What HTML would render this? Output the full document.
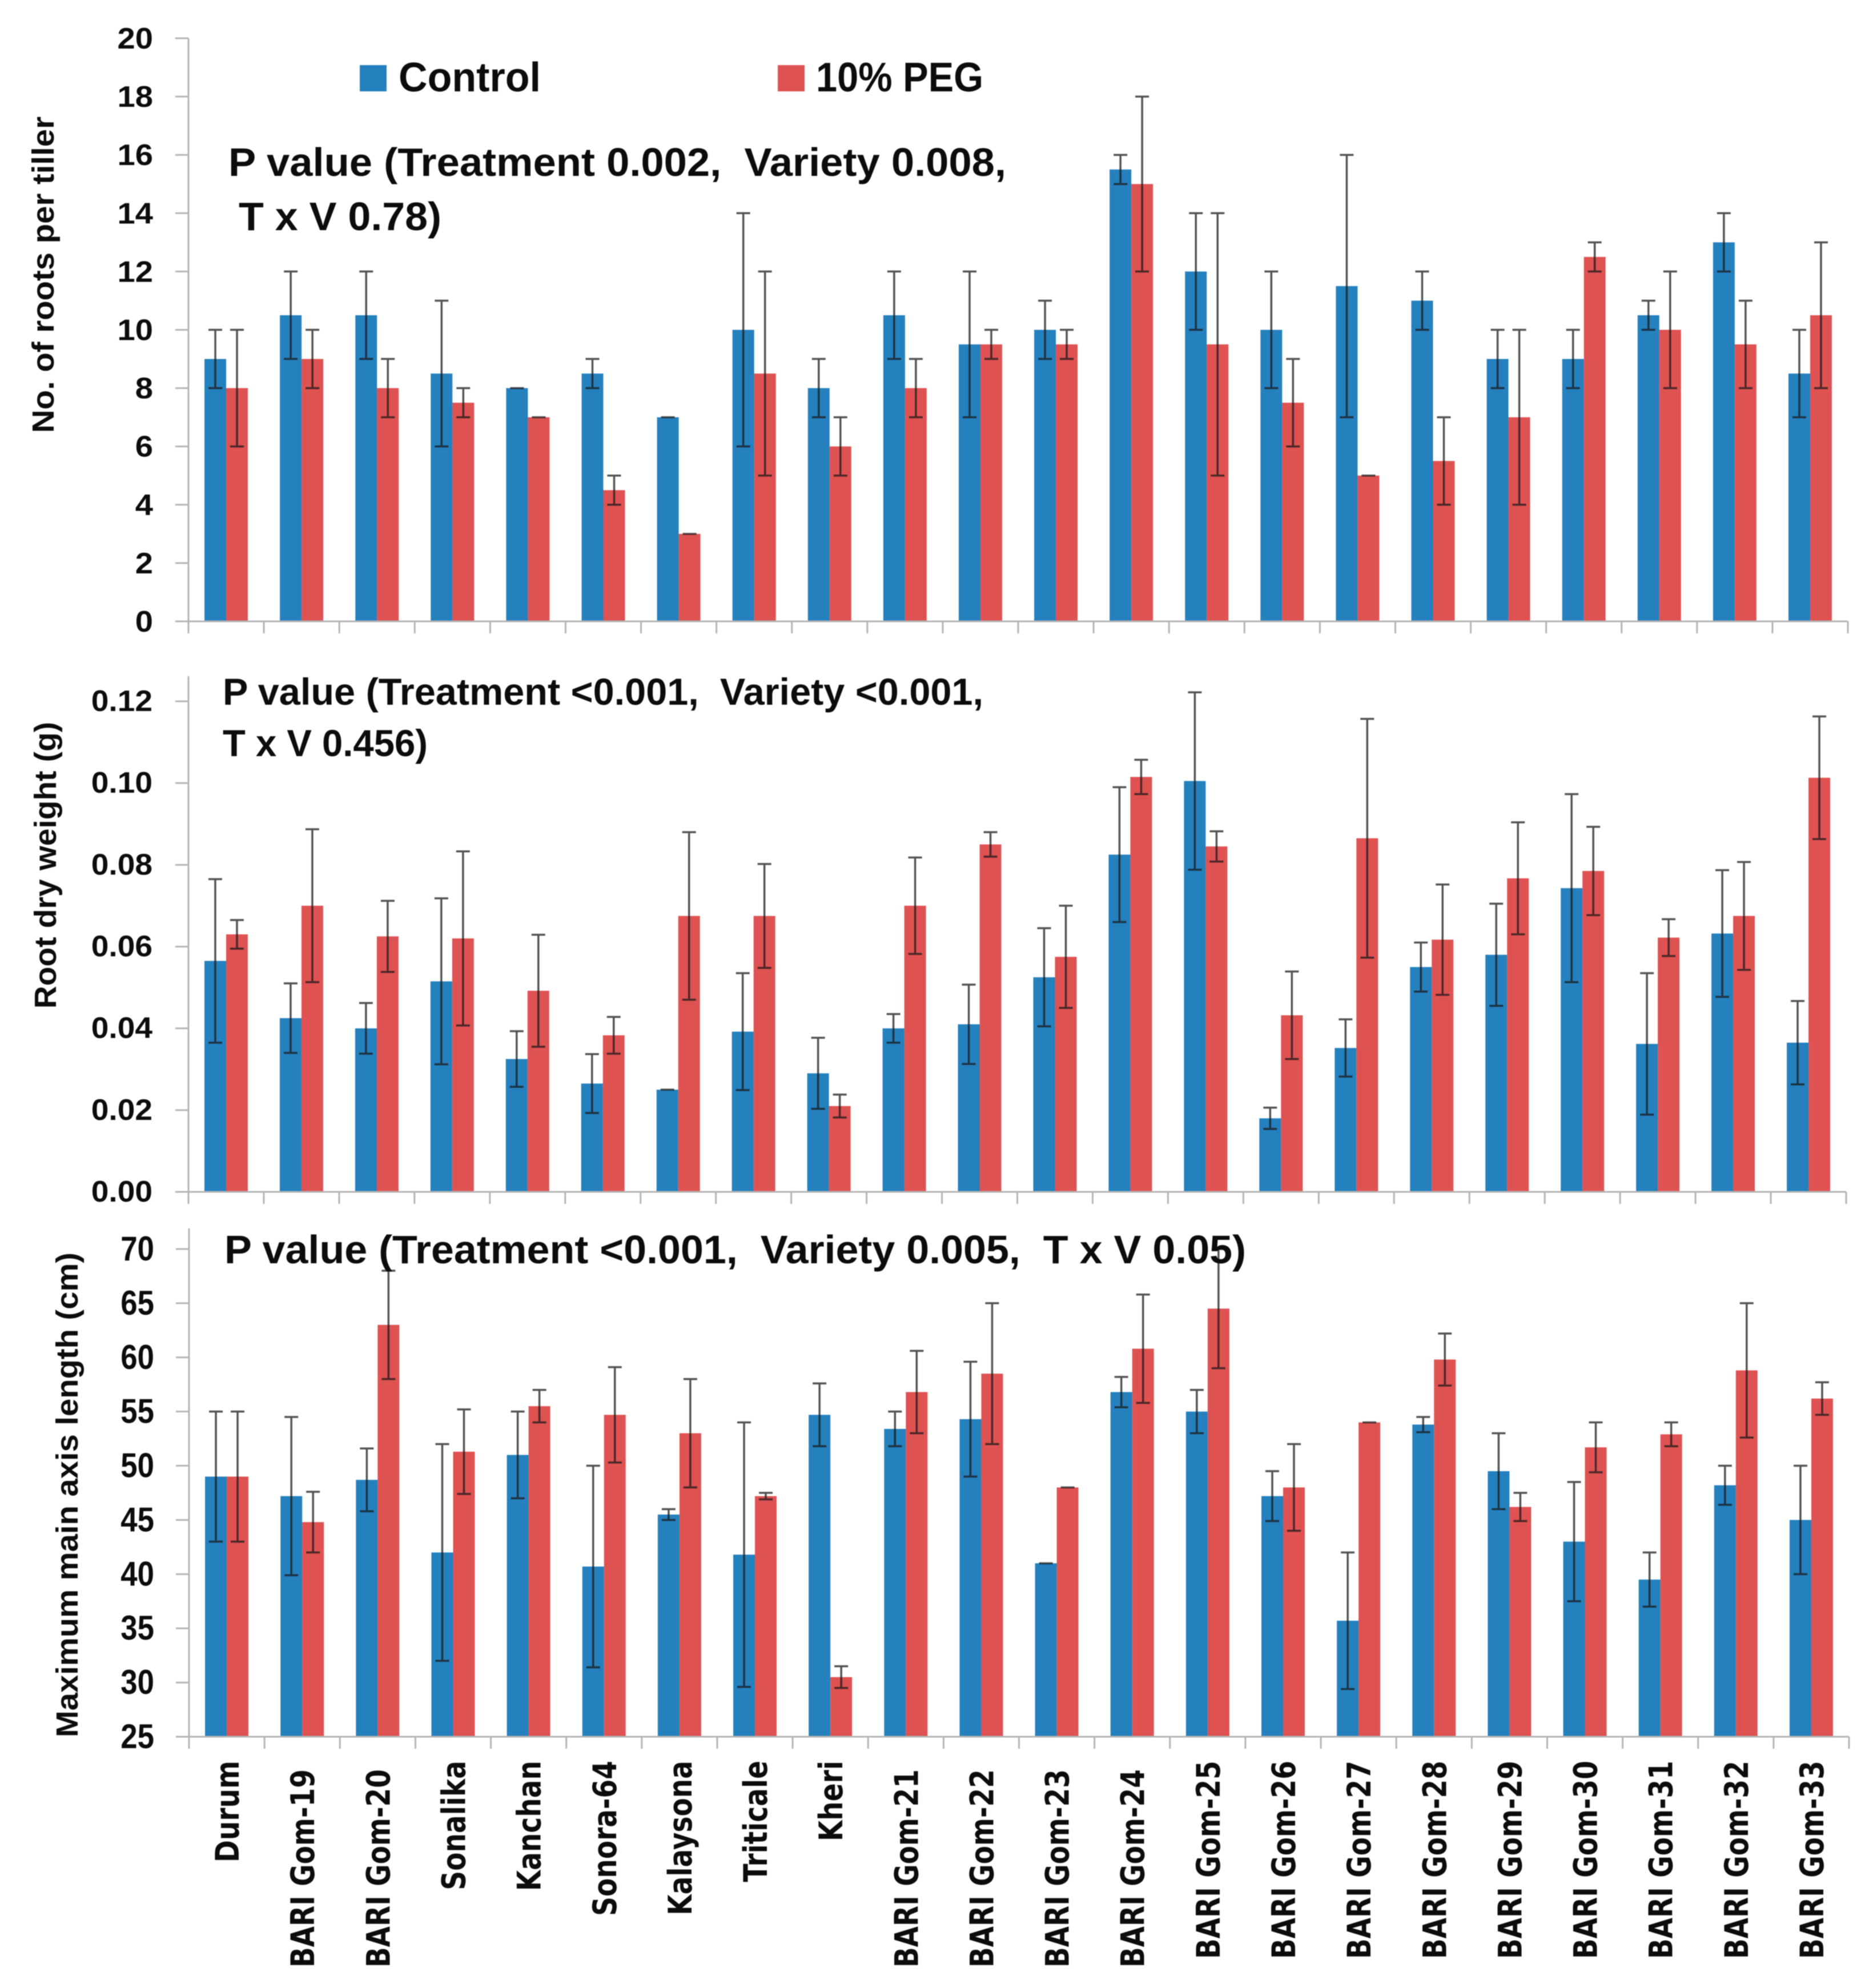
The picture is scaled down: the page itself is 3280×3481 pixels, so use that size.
<!DOCTYPE html>
<html>
<head>
<meta charset="utf-8">
<title>Root traits of wheat varieties under control and 10% PEG</title>
<style>
html,body{margin:0;padding:0;background:#fff;}
svg{display:block;filter:blur(0.9px);}
text{font-family:"Liberation Sans",sans-serif;font-weight:bold;fill:#0c0c0c;white-space:pre;}
.xl{font-family:"DejaVu Sans",sans-serif;}
</style>
</head>
<body>
<svg id="chart" xmlns="http://www.w3.org/2000/svg" width="3280" height="3481" viewBox="0 0 3280 3481">
  <rect x="0" y="0" width="3280" height="3481" fill="#fff"/>
  <g id="plots"></g>
  <g>
    <rect x="630" y="114" width="47" height="46" fill="#2580BE"/>
    <text x="698" y="160" font-size="72" textLength="249" lengthAdjust="spacingAndGlyphs">Control</text>
    <rect x="1362" y="114" width="47" height="46" fill="#DF5252"/>
    <text x="1429" y="160" font-size="72" textLength="293" lengthAdjust="spacingAndGlyphs">10% PEG</text>
  </g>
  <text x="400" y="308" font-size="70" textLength="1362" lengthAdjust="spacingAndGlyphs">P value (Treatment 0.002,  Variety 0.008,</text>
  <text x="418" y="403" font-size="70" textLength="355" lengthAdjust="spacingAndGlyphs">T x V 0.78)</text>
  <text x="390" y="1234" font-size="66" textLength="1332" lengthAdjust="spacingAndGlyphs">P value (Treatment &lt;0.001,  Variety &lt;0.001,</text>
  <text x="390" y="1324" font-size="66" textLength="359" lengthAdjust="spacingAndGlyphs">T x V 0.456)</text>
  <text x="393" y="2212" font-size="70" textLength="1789" lengthAdjust="spacingAndGlyphs">P value (Treatment &lt;0.001,  Variety 0.005,  T x V 0.05)</text>
  <text transform="translate(94,758) rotate(-90)" font-size="54" textLength="554" lengthAdjust="spacingAndGlyphs">No. of roots per tiller</text>
  <text transform="translate(98,1766) rotate(-90)" font-size="54" textLength="502" lengthAdjust="spacingAndGlyphs">Root dry weight (g)</text>
  <text transform="translate(136,3042) rotate(-90)" font-size="54" textLength="849" lengthAdjust="spacingAndGlyphs">Maximum main axis length (cm)</text>
</svg>
<script>
const categories = ['Durum','BARI Gom-19','BARI Gom-20','Sonalika','Kanchan','Sonora-64','Kalaysona','Triticale','Kheri','BARI Gom-21','BARI Gom-22','BARI Gom-23','BARI Gom-24','BARI Gom-25','BARI Gom-26','BARI Gom-27','BARI Gom-28','BARI Gom-29','BARI Gom-30','BARI Gom-31','BARI Gom-32','BARI Gom-33'];

const rootsControl = [9,10.5,10.5,8.5,8,8.5,7,10,8,10.5,9.5,10,15.5,12,10,11.5,11,9,9,10.5,13,8.5];
const rootsControlErr = [1,1.5,1.5,2.5,0,0.5,0,4,1,1.5,2.5,1,0.5,2,2,4.5,1,1,1,0.5,1,1.5];
const rootsPeg = [8,9,8,7.5,7,4.5,3,8.5,6,8,9.5,9.5,15,9.5,7.5,5,5.5,7,12.5,10,9.5,10.5];
const rootsPegErr = [2,1,1,0.5,0,0.5,0,3.5,1,1,0.5,0.5,3,4.5,1.5,0,1.5,3,0.5,2,1.5,2.5];
const rootsTicks = ['0','2','4','6','8','10','12','14','16','18','20'];

const weightControl = [0.0565,0.0425,0.040,0.0515,0.0325,0.0265,0.025,0.0392,0.029,0.040,0.041,0.0525,0.0825,0.1005,0.018,0.0352,0.055,0.058,0.0743,0.0362,0.0632,0.0365];
const weightControlErr = [0.020,0.0085,0.0062,0.0203,0.0068,0.0072,0,0.0143,0.0087,0.0035,0.0097,0.012,0.0165,0.0217,0.0026,0.007,0.006,0.0125,0.023,0.0173,0.0155,0.0102];
const weightPeg = [0.063,0.070,0.0625,0.062,0.0492,0.0383,0.0675,0.0675,0.021,0.070,0.085,0.0575,0.1015,0.0845,0.0432,0.0865,0.0617,0.0767,0.0785,0.0622,0.0675,0.1013];
const weightPegErr = [0.0035,0.0187,0.0087,0.0213,0.0137,0.0045,0.0205,0.0127,0.0028,0.0118,0.003,0.0125,0.0042,0.0037,0.0107,0.0292,0.0135,0.0137,0.0108,0.0045,0.0132,0.015];
const weightTicks = ['0.00','0.02','0.04','0.06','0.08','0.10','0.12'];

const lengthControl = [49,47.2,48.7,42,51,40.7,45.5,41.8,54.7,53.4,54.3,41,56.8,55,47.2,35.7,53.8,49.5,43,39.5,48.2,45];
const lengthControlErr = [6,7.3,2.9,10,4,9.3,0.5,12.2,2.9,1.6,5.3,0,1.4,2,2.3,6.3,0.7,3.5,5.5,2.5,1.8,5];
const lengthPeg = [49,44.8,63,51.3,55.5,54.7,53,47.2,30.5,56.8,58.5,48,60.8,64.5,48,54,59.8,46.2,51.7,52.9,58.8,56.2];
const lengthPegErr = [6,2.8,5,3.9,1.5,4.4,5,0.3,1,3.8,6.5,0,5,5.5,4,0,2.4,1.3,2.3,1.1,6.2,1.5];
const lengthTicks = ['25','30','35','40','45','50','55','60','65','70'];

const NS = 'http://www.w3.org/2000/svg';
const plots = document.getElementById('plots');
const BLUE = '#2580BE', RED = '#DF5252', AXIS = '#b4b4b4';

function make(tag, attrs, parent) {
  const el = document.createElementNS(NS, tag);
  for (const k in attrs) el.setAttribute(k, attrs[k]);
  parent.appendChild(el);
  return el;
}

function drawPanel(p) {
  const g = make('g', {}, plots);
  
  
  const n = categories.length;
  const step = (p.x1 - p.x0) / n;
  const lo = parseFloat(p.ticks[0]);
  const hi = parseFloat(p.ticks[p.ticks.length - 1]);
  const y = v => p.yLo + (v - lo) * (p.yHi - p.yLo) / (hi - lo);
  const cx = i => p.x0 + step * (i + 0.5);

  function bar(i, vals, side, color, seriesName) {
    const yTop = y(vals[i]);
    const x = side < 0 ? cx(i) - 38 : cx(i);
    const r = make('rect', {x: x, y: yTop, width: 38, height: p.yLo - yTop, fill: color}, g);
    
    
  }
  function err(i, vals, errs, side, seriesName) {
    const xc = cx(i) + side * 19;
    const t = y(vals[i] + errs[i]);
    const b = y(vals[i] - errs[i]);
    const d = 'M' + xc + ' ' + t + 'V' + b + 'M' + (xc - 12) + ' ' + t + 'H' + (xc + 12) + 'M' + (xc - 12) + ' ' + b + 'H' + (xc + 12);
    const e = make('path', {d: d, fill: 'none', stroke: '#1a1a1a', 'stroke-width': 3.5, 'stroke-opacity': 0.75}, g);
    
    
  }

  for (let i = 0; i < n; i++) {
    bar(i, p.control, -1, BLUE, 'control');
    bar(i, p.peg, 1, RED, 'peg');
  }
  for (let i = 0; i < n; i++) {
    err(i, p.control, p.controlErr, -1, 'control');
    err(i, p.peg, p.pegErr, 1, 'peg');
  }

  const yAxis = make('line', {x1: p.x0, x2: p.x0, y1: p.yTop, y2: p.yLo, stroke: AXIS, 'stroke-width': 3}, g);
  
  
  const xAxis = make('line', {x1: p.x0 - 23, x2: p.x1, y1: p.yLo, y2: p.yLo, stroke: AXIS, 'stroke-width': 3}, g);
  
  

  for (let i = 0; i <= n; i++) {
    const tx = p.x0 + step * i;
    const t = make('line', {x1: tx, x2: tx, y1: p.yLo, y2: p.yLo + 21, stroke: AXIS, 'stroke-width': 3}, g);
    
    
  }
  p.ticks.forEach(function (label) {
    const ty = y(parseFloat(label));
    const t = make('line', {x1: p.x0 - 23, x2: p.x0, y1: ty, y2: ty, stroke: AXIS, 'stroke-width': 3}, g);
    
    
    const txt = make('text', {
      transform: 'translate(' + p.labelX + ',' + (ty + p.labelDy) + ') scale(' + p.labelSx + ',1)',
      'text-anchor': 'end',
      'font-size': p.labelSize
    }, g);
    
    
    txt.textContent = label;
  });
}

drawPanel({name: 'roots', x0: 330, x1: 3236, yLo: 1088, yHi: 67, yTop: 67,
  ticks: rootsTicks, control: rootsControl, controlErr: rootsControlErr, peg: rootsPeg, pegErr: rootsPegErr,
  labelX: 268, labelDy: 18, labelSx: 1.08, labelSize: 52});
drawPanel({name: 'dry-weight', x0: 330, x1: 3233, yLo: 2087, yHi: 1228, yTop: 1184,
  ticks: weightTicks, control: weightControl, controlErr: weightControlErr, peg: weightPeg, pegErr: weightPegErr,
  labelX: 267, labelDy: 17, labelSx: 1.06, labelSize: 52});
drawPanel({name: 'axis-length', x0: 331, x1: 3238, yLo: 3041, yHi: 2187, yTop: 2151,
  ticks: lengthTicks, control: lengthControl, controlErr: lengthControlErr, peg: lengthPeg, pegErr: lengthPegErr,
  labelX: 270, labelDy: 20, labelSx: 0.88, labelSize: 60});

const stepX = (3238 - 331) / categories.length;
categories.forEach(function (name, i) {
  const num = parseInt(name.split('-')[1], 10);
  const isBari = name.indexOf('BARI') === 0;
  const top = isBari ? (num <= 24 ? 3098 : 3083) : 3083;
  const bx = 331 + stepX * (i + 0.5) + 21;
  const t = make('text', {
    class: 'xl',
    transform: 'translate(' + bx + ',' + top + ') rotate(-90) scale(0.825,1)',
    'text-anchor': 'end',
    'font-size': 57
  }, plots);
  
  
  t.textContent = name;
});
</script>
</body>
</html>
